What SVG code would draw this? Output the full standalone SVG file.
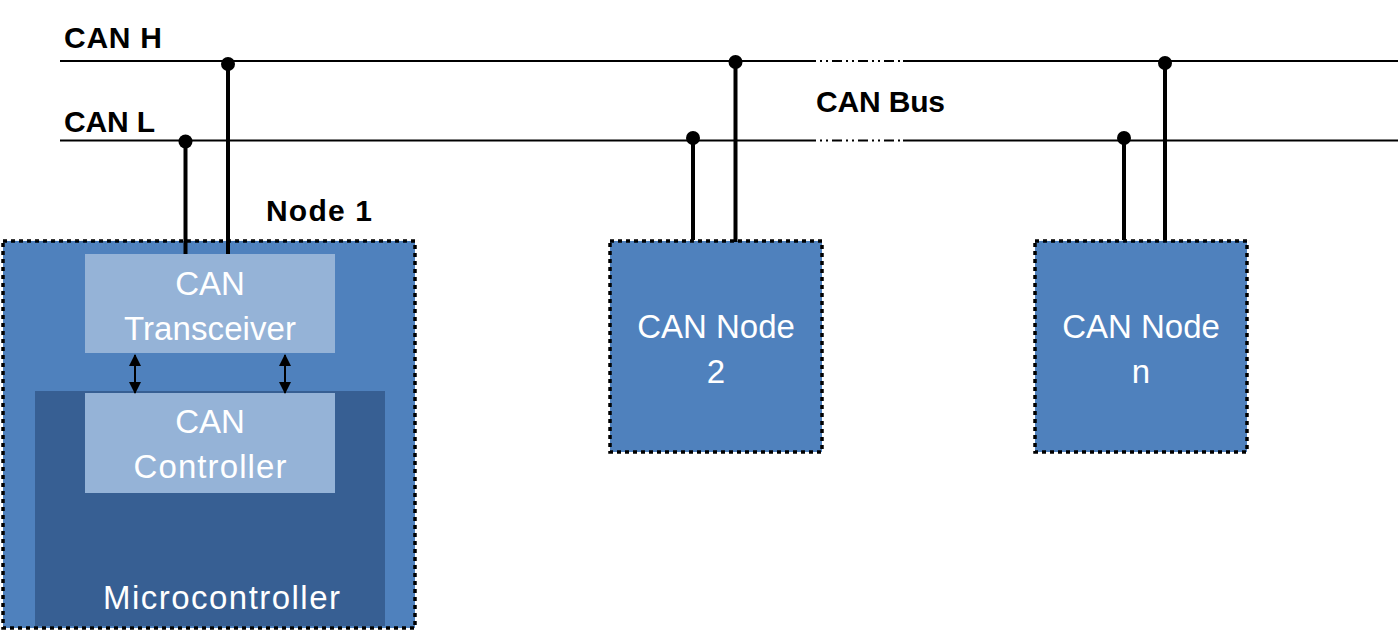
<svg xmlns="http://www.w3.org/2000/svg" width="1399" height="632" viewBox="0 0 1399 632">
<style>
.bus{stroke:#000;stroke-width:2;fill:none}
.busgap{stroke:#000;stroke-width:2;fill:none;stroke-dasharray:10 4 2 4 2 4}
.tap{stroke:#000;stroke-width:4;fill:none}
.dot{fill:#000}
.node{fill:#4F81BD;stroke:#000;stroke-width:3.5;stroke-dasharray:4 4}
.mcu{fill:#375F93}
.blk{fill:#95B3D7}
.lbl{font-family:"Liberation Sans",Arial,sans-serif;font-weight:bold;font-size:30px;fill:#000}
.wt{font-family:"Liberation Sans",Arial,sans-serif;font-size:33px;fill:#fff;text-anchor:middle}
.arr{stroke:#000;stroke-width:2;fill:none;marker-start:url(#ah);marker-end:url(#ah)}
</style>
<defs>
<marker id="ah" viewBox="0 0 12 12" refX="11" refY="6" markerWidth="12" markerHeight="12" markerUnits="userSpaceOnUse" orient="auto-start-reverse">
<path d="M0,0 L12,6 L0,12 Z" fill="#000"/>
</marker>
</defs>

<g id="bus">
<line class="bus" x1="60" y1="61" x2="806" y2="61"/>
<line class="busgap" x1="806" y1="61" x2="903" y2="61"/>
<line class="bus" x1="903" y1="61" x2="1398" y2="61"/>
<line class="bus" x1="60" y1="140.5" x2="806" y2="140.5"/>
<line class="busgap" x1="806" y1="140.5" x2="903" y2="140.5"/>
<line class="bus" x1="903" y1="140.5" x2="1398" y2="140.5"/>
<text class="lbl" x="64" y="48" textLength="98">CAN H</text>
<text class="lbl" x="64" y="132" textLength="91">CAN L</text>
<text class="lbl" x="816" y="112" textLength="129">CAN Bus</text>
</g>

<g id="node1">
<rect class="node" x="3" y="241" width="412" height="387"/>
<rect class="mcu" x="35" y="391" width="350" height="235"/>
<text class="wt" x="221.5" y="609" textLength="237">Microcontroller</text>
<text class="lbl" x="266" y="221" font-size="32" textLength="106">Node 1</text>
</g>

<g id="transceiver">
<rect class="blk" x="85" y="254" width="250" height="99"/>
<text class="wt" x="210" y="295">CAN</text>
<text class="wt" x="210" y="340" textLength="172">Transceiver</text>
</g>

<g id="controller">
<rect class="blk" x="85" y="393" width="250" height="100"/>
<text class="wt" x="210" y="433">CAN</text>
<text class="wt" x="210" y="478" textLength="153">Controller</text>
</g>

<g id="node2">
<rect class="node" x="610" y="241" width="212" height="211"/>
<text class="wt" x="716" y="338">CAN Node</text>
<text class="wt" x="716" y="383">2</text>
</g>

<g id="noden">
<rect class="node" x="1035" y="241" width="212" height="211"/>
<text class="wt" x="1141" y="338">CAN Node</text>
<text class="wt" x="1141" y="383">n</text>
</g>

<g id="connectors">
<line class="tap" x1="185.5" y1="141" x2="185.5" y2="254"/>
<circle class="dot" cx="185.5" cy="141.5" r="7"/>
<line class="tap" x1="228" y1="63" x2="228" y2="254"/>
<circle class="dot" cx="228" cy="64" r="7"/>
<line class="tap" x1="693" y1="138" x2="693" y2="240"/>
<circle class="dot" cx="693" cy="138" r="7"/>
<line class="tap" x1="735.5" y1="62" x2="735.5" y2="242"/>
<circle class="dot" cx="735.5" cy="62" r="7"/>
<line class="tap" x1="1124" y1="138" x2="1124" y2="240"/>
<circle class="dot" cx="1124" cy="138" r="7"/>
<line class="tap" x1="1165" y1="63" x2="1165" y2="242"/>
<circle class="dot" cx="1165" cy="63" r="7"/>
<line class="arr" x1="135" y1="355" x2="135" y2="393"/>
<line class="arr" x1="285" y1="355" x2="285" y2="393"/>
</g>
</svg>
